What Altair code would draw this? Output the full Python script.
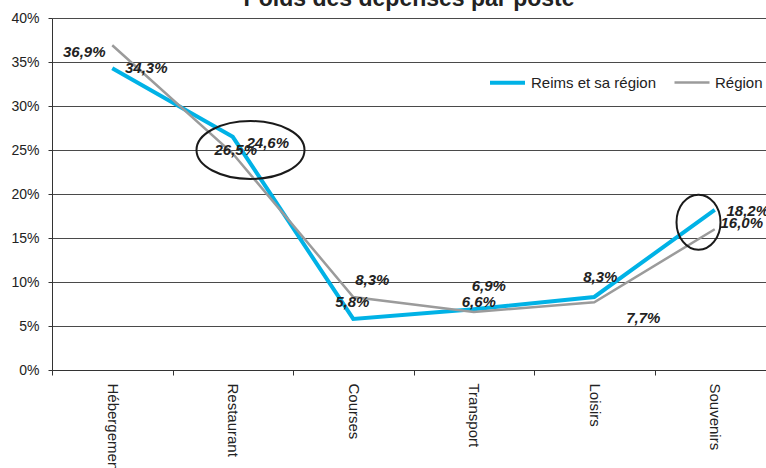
import altair as alt
import pandas as pd

# ---- data ----
categories = ["Hébergement", "Restaurant", "Courses", "Transport", "Loisirs", "Souvenirs"]
series_names = ["Reims et sa région", "Région"]
reims = [34.3, 26.5, 5.8, 6.9, 8.3, 18.2]
region = [36.9, 24.6, 8.3, 6.6, 7.7, 16.0]
y_ticks = [0, 5, 10, 15, 20, 25, 30, 35, 40]
title_text = "Poids des dépenses par poste"

# ---- annotation placement (pixel offsets of value labels) ----
reims_label_offsets = [(34, 0), (3, 13), (-1, -17), (15, -23), (6, -20), (33, 1)]
region_label_offsets = [(-28, 7), (35, -11), (19, -17), (5, -10), (49, 16), (27, -6)]

# ellipse highlights: category, value at centre, x offset from band start px, width px, height px
highlight_cats = ["Restaurant", "Souvenirs"]
highlight_vals = [25.0, 16.8]
highlight_dx = [78, 44]
highlight_w = [108, 44]
highlight_h = [58, 55]

CYAN = "#00B2E6"
GREY = "#9B9B9B"
FONT = "Liberation Sans"

rows = []
for s, vals in zip(series_names, [reims, region]):
    for c, v in zip(categories, vals):
        rows.append({"category": c, "series": s, "value": v})
df = pd.DataFrame(rows)

x_enc = alt.X(
    "category:N",
    sort=categories,
    scale=alt.Scale(type="band", paddingInner=0, paddingOuter=0, range=[0, 723]),
    axis=alt.Axis(
        title=None,
        labelAngle=90,
        tickBand="extent",
        tickSize=5,
        labelPadding=8,
        labelFontSize=15,
        labelFont=FONT,
        labelColor="#222222",
        domainColor="#333333",
        tickColor="#333333",
        grid=False,
    ),
)
y_enc = alt.Y(
    "value:Q",
    scale=alt.Scale(domain=[0, 40], nice=False),
    axis=alt.Axis(
        title=None,
        values=y_ticks,
        labelExpr="datum.value + '%'",
        tickSize=4,
        labelPadding=9,
        labelFontSize=14,
        labelFont=FONT,
        labelColor="#222222",
        grid=True,
        gridColor="#4a4a4a",
        gridWidth=1,
        domainColor="#333333",
        tickColor="#333333",
    ),
)

legend = alt.Legend(
    title=None,
    orient="none",
    legendX=436,
    legendY=45,
    direction="horizontal",
    symbolType="stroke",
    symbolSize=1225,
    labelFontSize=15,
    labelFont=FONT,
    labelColor="#222222",
    labelOffset=4,
    columnPadding=12,
)

base = alt.Chart(df)

lines = base.mark_line(strokeJoin="miter").encode(
    x=x_enc,
    y=y_enc,
    color=alt.Color(
        "series:N",
        sort=series_names,
        scale=alt.Scale(domain=series_names, range=[CYAN, GREY]),
        legend=legend,
    ),
    strokeWidth=alt.StrokeWidth(
        "series:N",
        sort=series_names,
        scale=alt.Scale(domain=series_names, range=[4, 2.5]),
        legend=legend,
    ),
    order=alt.Order("series:N", sort="descending"),
)

label_layers = []
for s, offsets in zip(series_names, [reims_label_offsets, region_label_offsets]):
    for c, (dx, dy) in zip(categories, offsets):
        label_layers.append(
            base.transform_filter(
                (alt.datum.series == s) & (alt.datum.category == c)
            )
            .transform_calculate(
                label="replace(format(datum.value, '.1f'), '.', ',') + '%'"
            )
            .mark_text(
                font=FONT,
                fontSize=15,
                fontStyle="italic",
                fontWeight="bold",
                color="#222222",
                align="center",
                baseline="middle",
                dx=dx,
                dy=dy,
            )
            .encode(x=alt.X("category:N", sort=categories), y="value:Q", text="label:N")
        )

ellipse_layers = []
for c, v, dx, w, h in zip(highlight_cats, highlight_vals, highlight_dx, highlight_w, highlight_h):
    ry = h / w
    path = f"M -1 0 A 1 {ry:.4f} 0 1 1 1 0 A 1 {ry:.4f} 0 1 1 -1 0 Z"
    edf = pd.DataFrame({"category": [c], "value": [v]})
    ellipse_layers.append(
        alt.Chart(edf)
        .mark_point(shape=path, size=w * w, filled=False, stroke="#1a1a1a", strokeWidth=2, opacity=1)
        .encode(x=alt.X("category:N", sort=categories), y="value:Q", xOffset=alt.value(dx))
    )

chart = (
    alt.layer(lines, *label_layers, *ellipse_layers)
    .properties(
        width=714,
        height=352,
        padding={"left": 52, "top": 18, "right": 0, "bottom": 98},
        autosize="none",
        title=alt.TitleParams(
            title_text,
            font=FONT,
            fontSize=23,
            fontWeight="bold",
            color="#222222",
            anchor="middle",
            frame="group",
            baseline="alphabetic",
            offset=-18,
        ),
    )
    .configure_view(stroke=None)
    .configure(background="white")
)

chart.save("out.html", embed_options={"renderer": "svg", "actions": False})
